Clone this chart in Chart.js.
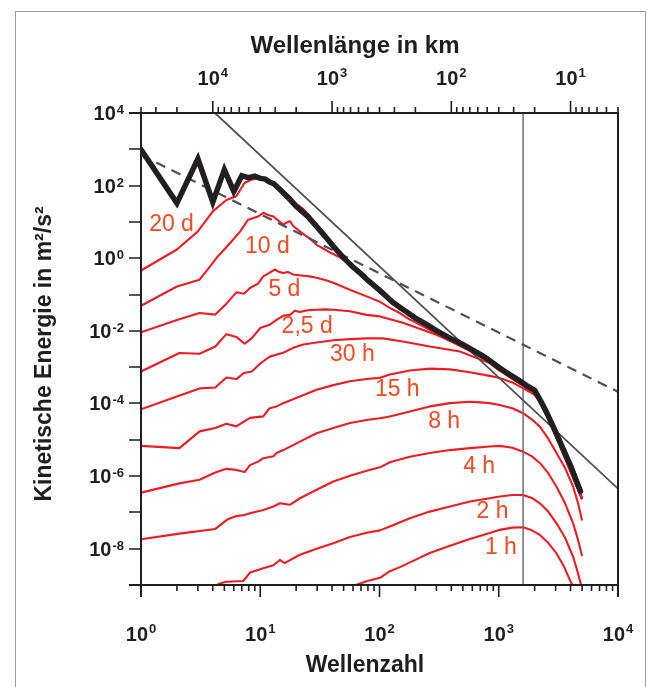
<!DOCTYPE html>
<html><head><meta charset="utf-8">
<script src="https://cdn.jsdelivr.net/npm/chart.js@4.4.1/dist/chart.umd.min.js"></script>
<style>html,body{margin:0;padding:0;background:#fff;}canvas{display:block;}</style>
</head><body>
<canvas id="c" width="651" height="687"></canvas>
<script>
// ---- data: [Wellenzahl, kinetische Energie m²/s²] ----
const black = [[1,980],[2,33],[3,550],[4,35],[5,275],[6,69],[7,186],[8,166],[9,182],[10,158],[11,151],[12,126],[13,112],[15,72],[17,48],[20,27],[25,14.1],[30,7.2],[35,4.0],[40,2.34],[50,1.02],[60,0.575],[70,0.37],[80,0.245],[100,0.132],[130,0.060],[150,0.043],[200,0.0224],[250,0.0148],[300,0.0102],[400,6.0e-3],[500,4.2e-3],[600,3.0e-3],[700,2.24e-3],[800,1.7e-3],[1000,1.0e-3],[1200,6.6e-4],[1500,4.2e-4],[1700,3.16e-4],[2000,2.3e-4],[2250,1.17e-4],[2500,6.0e-5],[3000,1.66e-5],[3500,5.2e-6],[4000,1.95e-6],[4500,7.1e-7],[4850,3.8e-7]];
const d20 = [[1,0.457],[2,1.74],[3,5.5],[4,19.5],[5.2,40],[6.3,51],[7.4,120],[8.5,148],[10,166],[12,135],[14,100],[16,66],[18,48],[20,31.6],[23,22.4],[26,14.5],[30,8.3],[40,2.5],[50,1.07],[70,0.38],[100,0.135],[150,0.044],[200,0.023],[300,0.0105],[500,4.2e-3],[700,2.24e-3],[1000,1.0e-3],[1500,4.1e-4],[2000,2.2e-4],[2500,5.6e-5],[3000,1.5e-5],[4000,1.66e-6],[5000,2.4e-7]];
const d10 = [[1,0.049],[2,0.166],[3.1,0.257],[3.8,0.60],[4.4,1.12],[5.6,2.63],[6.8,5.5],[7.9,11.5],[9.6,14.1],[10.6,17.8],[11.5,15.8],[12.9,14.1],[14,11.2],[15.6,8.5],[16.5,9.5],[17.7,10.5],[19,7.6],[21.5,5.5],[24,4.2],[26,3.5],[29.7,2.34],[34,1.82],[38.9,1.41],[45,1.12],[52,0.83],[60,0.55],[70,0.355],[80,0.234],[100,0.126],[150,0.041],[200,0.0214],[300,9.8e-3],[500,4.0e-3],[700,2.14e-3],[1000,9.5e-4],[1500,3.9e-4],[2000,2.1e-4],[2500,5.4e-5],[3000,1.41e-5],[4000,1.5e-6],[5000,2.4e-7]];
const d5 = [[1,9.1e-3],[2,0.020],[3.1,0.031],[4.2,0.028],[5.2,0.056],[6.3,0.115],[7.3,0.105],[8.2,0.151],[9.6,0.20],[10.6,0.316],[12,0.40],[13.3,0.49],[14.1,0.43],[15.6,0.39],[17,0.42],[18.9,0.355],[22.9,0.33],[26,0.316],[29.7,0.29],[35,0.25],[41,0.21],[56.5,0.135],[78,0.089],[101,0.063],[122,0.043],[150,0.030],[180,0.0204],[264,0.0107],[400,5.4e-3],[500,3.8e-3],[700,2.1e-3],[1000,9.3e-4],[1500,3.8e-4],[2000,2.04e-4],[2500,5.2e-5],[3000,1.38e-5],[4000,1.45e-6],[5000,2.4e-7]];
const d2_5 = [[1,7.6e-4],[2.1,2.45e-3],[3.1,2.34e-3],[4.2,3.7e-3],[5.2,8.1e-3],[6.3,6.8e-3],[7.4,4.4e-3],[8.5,6.3e-3],[10,0.012],[12,0.0148],[14,0.021],[15.6,0.026],[18,0.028],[19.5,0.036],[21.5,0.033],[25,0.037],[29.7,0.038],[35,0.039],[41,0.038],[56.5,0.0347],[78,0.0275],[101,0.025],[157,0.0166],[200,0.0126],[300,7.8e-3],[400,5.1e-3],[570,2.8e-3],[790,1.51e-3],[1000,8.9e-4],[1500,3.6e-4],[2000,1.95e-4],[2500,5.1e-5],[3000,1.32e-5],[4000,1.38e-6],[5000,2.3e-7]];
const h30 = [[1,6.9e-5],[2,1.55e-4],[3.1,2.6e-4],[4.2,2.75e-4],[5.2,5.2e-4],[6.3,4.7e-4],[7.3,6.9e-4],[8.5,7.6e-4],[10,1.26e-3],[12,1.95e-3],[15.6,2.5e-3],[18.9,3.4e-3],[22.9,4.2e-3],[29.7,4.8e-3],[41,5.5e-3],[56.5,5.9e-3],[78,6.2e-3],[107,6.2e-3],[157,5.1e-3],[264,3.7e-3],[472,2.7e-3],[840,1.29e-3],[1000,8.3e-4],[1500,3.5e-4],[2000,1.86e-4],[2500,5.0e-5],[3000,1.29e-5],[4000,1.35e-6],[5000,2.3e-7]];
const h15 = [[1,6.8e-6],[2.1,5.9e-6],[3.1,1.7e-5],[4.2,2.1e-5],[5.2,2.75e-5],[6.3,2.34e-5],[7.7,3.55e-5],[8.2,4.0e-5],[10.6,4.4e-5],[12,7.4e-5],[13.7,8.3e-5],[15.6,1.02e-4],[21.5,1.55e-4],[29.7,2.4e-4],[41,3.2e-4],[56.5,4.1e-4],[78,4.7e-4],[101,5.1e-4],[122,6.3e-4],[180,8.1e-4],[264,9.1e-4],[390,8.7e-4],[573,7.2e-4],[840,5.75e-4],[1020,5.0e-4],[1300,3.8e-4],[1600,2.6e-4],[1850,2.04e-4],[2075,1.55e-4],[2300,9.5e-5],[2500,5.0e-5],[3000,1.29e-5],[4000,1.32e-6],[5000,2.3e-7]];
const h8 = [[1,3.5e-7],[2.1,6.3e-7],[3.1,7.9e-7],[4.2,1.26e-6],[5.2,1.58e-6],[6.3,1.48e-6],[7.4,1.29e-6],[8.2,2.0e-6],[9.6,2.5e-6],[10.6,3.1e-6],[12.9,3.5e-6],[13.7,4.3e-6],[15.6,5.2e-6],[21.5,8.9e-6],[29.7,1.51e-5],[41,2.1e-5],[56.5,2.9e-5],[78,3.5e-5],[101,3.9e-5],[122,4.4e-5],[180,6.0e-5],[264,8.3e-5],[390,1.02e-4],[573,1.12e-4],[700,1.07e-4],[840,1.02e-4],[1020,9.1e-5],[1300,7.4e-5],[1600,5.4e-5],[1900,3.6e-5],[2211,2.3e-5],[2600,1.07e-5],[3050,4.3e-6],[3600,1.66e-6],[4205,5.1e-7],[4600,1.9e-7],[5000,6.0e-8]];
const h4 = [[1,1.82e-8],[2.1,2.6e-8],[4.2,3.5e-8],[5.35,6.5e-8],[6.3,7.9e-8],[7.4,8.5e-8],[8.2,9.5e-8],[10.6,1.17e-7],[12.9,1.45e-7],[14.6,1.78e-7],[17.7,1.62e-7],[21.5,2.45e-7],[29.7,4.2e-7],[41,7.1e-7],[56.5,1.02e-6],[78,1.41e-6],[101,1.74e-6],[122,2.4e-6],[180,3.4e-6],[264,4.3e-6],[390,5.2e-6],[573,5.9e-6],[840,6.5e-6],[1020,6.8e-6],[1300,6.0e-6],[1600,4.7e-6],[1900,3.5e-6],[2211,2.3e-6],[2600,1.2e-6],[3050,5.1e-7],[3600,1.78e-7],[4205,5.0e-8],[4600,1.86e-8],[5000,6.3e-9]];
const h2 = [[4.4,1.07e-9],[5.2,1.23e-9],[7.2,1.29e-9],[8.2,2.2e-9],[9.6,2.6e-9],[10.6,2.9e-9],[12.9,3.5e-9],[14.6,4.9e-9],[16,4.0e-9],[21.5,6.8e-9],[29.7,1.0e-8],[41,1.41e-8],[56.5,2.1e-8],[78,2.75e-8],[101,3.2e-8],[122,4.1e-8],[180,6.9e-8],[264,1.05e-7],[390,1.45e-7],[573,2.0e-7],[840,2.45e-7],[1020,2.75e-7],[1300,3.0e-7],[1600,3.0e-7],[1900,2.5e-7],[2211,1.78e-7],[2600,1.05e-7],[3050,5.0e-8],[3600,2.0e-8],[4205,6.0e-9],[4550,2.5e-9],[4900,1.0e-9],[5000,7e-10]];
const h1 = [[57,8.9e-10],[78,1.26e-9],[101,1.58e-9],[122,2.4e-9],[150,3.16e-9],[180,4.2e-9],[264,7.6e-9],[390,1.2e-8],[573,1.86e-8],[840,2.7e-8],[1020,3.3e-8],[1300,3.8e-8],[1600,3.9e-8],[1900,3.2e-8],[2211,2.4e-8],[2600,1.45e-8],[3050,7.4e-9],[3500,3.4e-9],[3945,1.38e-9],[4300,7.9e-10]];
const refSteep = [[4.17,1e4],[1e4,4.5e-7]];     // k^-3
const refDashed = [[1,700],[1e4,2.1e-4]];       // k^-5/3
const refVertical = [[1600,1e-9],[1600,1e4]];

// ---- tick labels / texts ----
const yTickExps = ['4','2','0','-2','-4','-6','-8'];
const xTickExps = ['0','1','2','3','4'];
const topTickExps = ['4','3','2','1'];
const curveLabels = ['20 d','10 d','5 d','2,5 d','30 h','15 h','8 h','4 h','2 h','1 h'];
const labelAnchors = [[1.17,5.6],[7.44,1.4],[11.7,0.089],[15.1,8.6e-3],[38.4,1.44e-3],[91.5,1.56e-4],[256,2.1e-5],[503,1.2e-6],[651,7.1e-8],[765,7.2e-9]];
const redCurves = [d20,d10,d5,d2_5,h30,h15,h8,h4,h2,h1];

const RED = '#ec1c24', LABEL = '#f04a22', INK = '#1e1e1e';
const FONT = '"Liberation Sans", Arial, Helvetica, sans-serif';
const toXY = a => a.map(([x,y]) => ({x, y}));

function powLabel(ctx, exp, x, baseY, expY, align){
  const bf = 'bold 20px ' + FONT, ef = 'bold 13px ' + FONT;
  ctx.font = bf; const wb = ctx.measureText('10').width;
  ctx.font = ef; const we = ctx.measureText(exp).width;
  const w = wb + 1 + we;
  const left = align === 'right' ? x - w : (align === 'center' ? x - w/2 : x);
  ctx.textAlign = 'left'; ctx.textBaseline = 'alphabetic';
  ctx.font = bf; ctx.fillText('10', left, baseY);
  ctx.font = ef; ctx.fillText(exp, left + wb + 1, expY);
}

const axesPlugin = {
  id: 'axesDraw',
  afterDatasetsDraw(chart){
    const ctx = chart.ctx, sx = chart.scales.x, sy = chart.scales.y, st = chart.scales.top;
    const L = sx.getPixelForValue(1), R = sx.getPixelForValue(1e4);
    const T = sy.getPixelForValue(1e4), B = sy.getPixelForValue(1e-9);
    const MAJ = 12, MIN = 6;
    ctx.save();
    // outer frame
    ctx.strokeStyle = '#9c9c9c'; ctx.lineWidth = 1;
    ctx.strokeRect(15.5, 11.5, 630, 720);
    // curve labels
    ctx.fillStyle = LABEL; ctx.font = '23px ' + FONT; ctx.textAlign = 'left'; ctx.textBaseline = 'alphabetic';
    curveLabels.forEach((t, i) => {
      const [k, e] = labelAnchors[i];
      ctx.fillText(t, sx.getPixelForValue(k), sy.getPixelForValue(e));
    });
    // axis lines
    ctx.strokeStyle = INK; ctx.lineWidth = 2; ctx.lineCap = 'butt';
    ctx.beginPath();
    ctx.moveTo(L - MAJ, T); ctx.lineTo(R + 1, T);
    ctx.moveTo(L - MAJ, B); ctx.lineTo(R + 1, B);
    ctx.moveTo(L, T); ctx.lineTo(L, B + MAJ);
    ctx.moveTo(R, T); ctx.lineTo(R, B + MAJ);
    ctx.stroke();
    // ticks
    ctx.lineWidth = 1.6;
    ctx.beginPath();
    for (let d = -9; d <= 4; d++){
      const py = Math.round(sy.getPixelForValue(Math.pow(10, d)));
      ctx.moveTo(L - MAJ, py); ctx.lineTo(L, py);
    }
    for (let d = 0; d <= 3; d++) for (let m = 1; m <= 9; m++){
      const px = sx.getPixelForValue(m * Math.pow(10, d));
      ctx.moveTo(px, B); ctx.lineTo(px, B + (m === 1 ? MAJ : MIN));
    }
    for (let d = 0; d <= 4; d++) for (let m = 1; m <= 9; m++){
      const v = m * Math.pow(10, d);
      if (v < 4 || v > 40000) continue;
      const px = st.getPixelForValue(v);
      ctx.moveTo(px, T); ctx.lineTo(px, T - (m === 1 ? MAJ : MIN));
    }
    ctx.stroke();
    // tick labels
    ctx.fillStyle = INK;
    yTickExps.forEach(e => {
      const py = sy.getPixelForValue(Math.pow(10, +e));
      powLabel(ctx, e, 124, py + 7, py + 1, 'right');
    });
    xTickExps.forEach(e => {
      const px = sx.getPixelForValue(Math.pow(10, +e));
      powLabel(ctx, e, px, 641, 633, 'center');
    });
    topTickExps.forEach(e => {
      const px = st.getPixelForValue(Math.pow(10, +e));
      powLabel(ctx, e, px, 85, 77, 'center');
    });
    // axis titles
    ctx.textAlign = 'center'; ctx.textBaseline = 'alphabetic';
    ctx.font = 'bold 24px ' + FONT;
    ctx.fillText('Wellenlänge in km', 355, 53);
    ctx.font = 'bold 23px ' + FONT;
    ctx.fillText('Wellenzahl', 365, 672);
    ctx.save();
    ctx.translate(51, 354); ctx.rotate(-Math.PI / 2);
    ctx.fillText('Kinetische Energie in m²/s²', 0, 0);
    ctx.restore();
    ctx.restore();
  }
};

const datasets = [
  {data: toXY(black), borderColor: '#231f20', borderWidth: 5.5, borderJoinStyle: 'miter', borderCapStyle: 'round', order: 0},
  {data: toXY(refSteep), borderColor: '#505050', borderWidth: 1.8, order: 1},
  {data: toXY(refDashed), borderColor: '#505050', borderWidth: 2.2, borderDash: [10, 7], order: 1},
  {data: toXY(refVertical), borderColor: '#6e6e6e', borderWidth: 1.5, order: 1}
].concat(redCurves.map(c => ({data: toXY(c), borderColor: RED, borderWidth: 2.1, borderJoinStyle: 'round', order: 2})));
datasets.forEach(d => { d.showLine = true; d.pointRadius = 0; d.fill = false; d.tension = 0; });

new Chart(document.getElementById('c'), {
  type: 'scatter',
  data: {datasets},
  options: {
    responsive: false, animation: false, events: [],
    layout: {padding: {left: 141, top: 113, right: 33, bottom: 102}},
    plugins: {legend: {display: false}, tooltip: {enabled: false}},
    scales: {
      x: {type: 'logarithmic', min: 1, max: 1e4, display: false},
      y: {type: 'logarithmic', min: 1e-9, max: 1e4, display: false},
      top: {type: 'logarithmic', axis: 'x', position: 'top', min: 4, max: 40000, reverse: true, display: false}
    }
  },
  plugins: [axesPlugin]
});
</script>
</body></html>
